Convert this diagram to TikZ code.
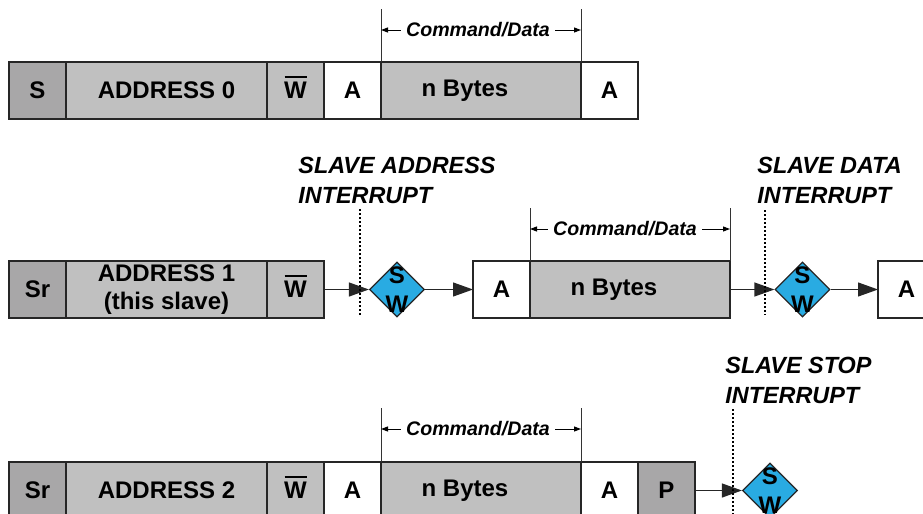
\documentclass[tikz,border=0pt]{standalone}
\usepackage{fontspec}
\setmainfont{Liberation Sans}
\usetikzlibrary{shapes.geometric,arrows.meta}
\definecolor{darkfield}{HTML}{A8A7A8}
\definecolor{lightfield}{HTML}{C0C0C0}
\definecolor{swblue}{HTML}{29ABE2}
\newcommand{\wbar}{\ooalign{W\cr\hidewidth\rule[10.6pt]{11pt}{0.9pt}\hidewidth\cr}}
\begin{document}
\begin{tikzpicture}[x=0.5pt,y=-0.5pt,
    field/.style={draw=black!85, line width=0.7pt, inner sep=0pt, outer sep=0pt,
        minimum height=28.5pt, anchor=north west, font=\fontsize{12}{14}\selectfont\bfseries},
    sbox/.style={field, minimum width=28.5pt},
    addrbox/.style={field, minimum width=100.5pt, fill=lightfield},
    bytebox/.style={field, minimum width=100pt, fill=lightfield},
    swbox/.style={diamond, draw=black!85, fill=swblue, line width=0.6pt,
        minimum width=27.5pt, minimum height=27.5pt, inner sep=0pt},
    swtext/.style={font=\fontsize{12}{14.5}\selectfont\bfseries, align=center, inner sep=0pt},
    flow/.style={-{Triangle[length=10pt,width=7pt]}, line width=0.6pt, black!85},
    tick/.style={line width=0.5pt, black!80},
    dim/.style={-{Triangle[length=3.5pt,width=2.5pt]}, line width=0.5pt},
    dimtext/.style={inner sep=2.5pt, font=\fontsize{9.8}{11}\selectfont\bfseries\itshape},
    irqline/.style={line width=1pt, dash pattern=on 1pt off 1pt},
    irqlabel/.style={anchor=west, align=left, inner sep=0pt,
        font=\fontsize{11.7}{15}\selectfont\bfseries\itshape}]
    \useasboundingbox (0,0) rectangle (923,514);
    % first frame
    \node[sbox, fill=darkfield] (s0) at (9,62) {S};
    \node[addrbox] (addr0) at (s0.north east) {ADDRESS 0};
    \node[sbox, fill=lightfield] (w0) at (addr0.north east) {\wbar};
    \node[sbox, fill=white] (ack0) at (w0.north east) {A};
    \node[bytebox] (bytes0) at (ack0.north east) {n Bytes\hspace*{16pt}};
    \node[sbox, fill=white] (ack0b) at (bytes0.north east) {A};
    \draw[tick] (bytes0.north west) -- ++(0,-53);
    \draw[tick] (bytes0.north east) -- ++(0,-53);
    \node[dimtext] (cd0) at (478,30) {Command/Data};
    \draw[dim] (cd0.west) -- (bytes0.north west |- cd0.west);
    \draw[dim] (cd0.east) -- (bytes0.north east |- cd0.east);
    % second frame
    \node[sbox, fill=darkfield] (sr1) at (9,261) {Sr};
    \node[addrbox, align=center] (addr1) at (sr1.north east) {ADDRESS 1\\(this slave)};
    \node[sbox, fill=lightfield] (w1) at (addr1.north east) {\wbar};
    \node[swbox] (irq1) at (397,289.5) {};
    \node[swtext] at (irq1) {S\\W};
    \node[sbox, fill=white] (ack1) at (473,261) {A};
    \node[bytebox] (bytes1) at (ack1.north east) {n Bytes\hspace*{16pt}};
    \node[swbox] (irq2) at (802.5,289.5) {};
    \node[swtext] at (irq2) {S\\W};
    \node[sbox, fill=white] (ack1b) at (878,261) {A};
    \draw[flow] (w1.east) -- (irq1.west);
    \draw[flow] (irq1.east) -- (ack1.west);
    \draw[flow] (bytes1.east) -- (irq2.west);
    \draw[flow] (irq2.east) -- (ack1b.west);
    \draw[tick] (bytes1.north west) -- ++(0,-53);
    \draw[tick] (bytes1.north east) -- ++(0,-53);
    \node[dimtext] (cd1) at (625,229) {Command/Data};
    \draw[dim] (cd1.west) -- (bytes1.north west |- cd1.west);
    \draw[dim] (cd1.east) -- (bytes1.north east |- cd1.east);
    \draw[irqline] (360,209) -- (360,315);
    \draw[irqline] (765,210) -- (765,315);
    \node[irqlabel] (lbl1) at (298,180) {SLAVE ADDRESS\\INTERRUPT};
    \node[irqlabel] (lbl2) at (757,180) {SLAVE DATA\\INTERRUPT};
    % third frame
    \node[sbox, fill=darkfield] (sr2) at (9,462) {Sr};
    \node[addrbox] (addr2) at (sr2.north east) {ADDRESS 2};
    \node[sbox, fill=lightfield] (w2) at (addr2.north east) {\wbar};
    \node[sbox, fill=white] (ack2) at (w2.north east) {A};
    \node[bytebox] (bytes2) at (ack2.north east) {n Bytes\hspace*{16pt}};
    \node[sbox, fill=white] (ack2b) at (bytes2.north east) {A};
    \node[sbox, fill=darkfield] (stop2) at (ack2b.north east) {P};
    \node[swbox] (irq3) at (770,490.5) {};
    \node[swtext] at (irq3) {S\\W};
    \draw[flow] (stop2.east) -- (irq3.west);
    \draw[tick] (bytes2.north west) -- ++(0,-54);
    \draw[tick] (bytes2.north east) -- ++(0,-54);
    \node[dimtext] (cd2) at (478,429) {Command/Data};
    \draw[dim] (cd2.west) -- (bytes2.north west |- cd2.west);
    \draw[dim] (cd2.east) -- (bytes2.north east |- cd2.east);
    \draw[irqline] (733,409) -- (733,520);
    \node[irqlabel] (lbl3) at (725,380.5) {SLAVE STOP\\INTERRUPT};
\end{tikzpicture}
\end{document}
